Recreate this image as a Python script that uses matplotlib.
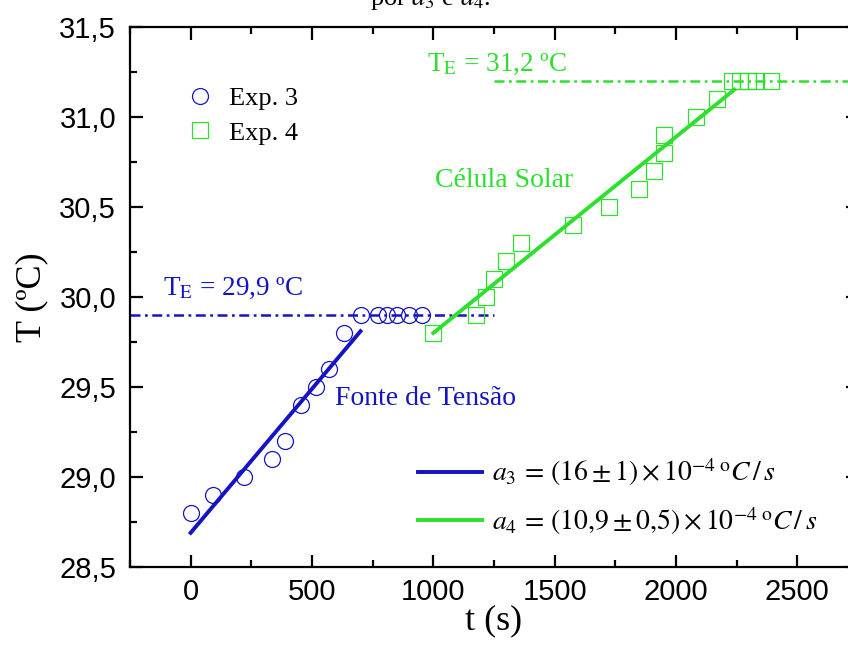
import matplotlib
matplotlib.use("Agg")
import matplotlib.pyplot as plt
from matplotlib.lines import Line2D
from matplotlib.ticker import MultipleLocator, FuncFormatter

plt.rcParams["mathtext.fontset"] = "stix"

# ── data ──────────────────────────────────────────────────────────────────────
t_exp3 = [0, 90, 220, 335, 390, 455, 515, 572, 632,
          700, 770, 808, 852, 898, 955]
T_exp3 = [28.8, 28.9, 29.0, 29.1, 29.2, 29.4, 29.5, 29.6, 29.8,
          29.9, 29.9, 29.9, 29.9, 29.9, 29.9]

t_exp4 = [1000, 1175, 1218, 1252, 1300, 1362, 1575, 1722, 1846, 1911,
          1952, 1952, 2083, 2169, 2232, 2262, 2298, 2330, 2392]
T_exp4 = [29.8, 29.9, 30.0, 30.1, 30.2, 30.3, 30.4, 30.5, 30.6, 30.7,
          30.8, 30.9, 31.0, 31.1, 31.2, 31.2, 31.2, 31.2, 31.2]

# linear fits: T = T0 + a * (t - t0)
fit3_t = [0, 700]
fit3_T0, fit3_a = 28.69, 16e-4
fit4_t = [1000, 2240]
fit4_T0, fit4_a = 29.80, 10.9e-4

TE3, TE3_span = 29.9, [-250, 1250]
TE4, TE4_span = 31.2, [1250, 2750]

# ── colours ───────────────────────────────────────────────────────────────────
BLUE = "#1414c4"
GREEN = "#2ee02e"
SERIF = "Liberation Serif"
SANS = "Liberation Sans"

fig = plt.figure(figsize=(8.48, 6.45), dpi=100)
ax = fig.add_axes([130 / 848, 1 - 567 / 645, 728 / 848, 540 / 645])

ax.plot(t_exp3, T_exp3, "o", ms=11.5, mfc="none", mec=BLUE, mew=0.9, zorder=3)
ax.plot(t_exp4, T_exp4, "s", ms=11, mfc="none", mec=GREEN, mew=0.9, zorder=3)

y3 = [fit3_T0 + fit3_a * (t - fit3_t[0]) for t in fit3_t]
y4 = [fit4_T0 + fit4_a * (t - fit4_t[0]) for t in fit4_t]
ax.plot(fit3_t, y3, color=BLUE, lw=2.8, zorder=4)
ax.plot(fit4_t, y4, color=GREEN, lw=2.8, zorder=4)

dashdot = (0, (4.0, 1.8, 1.1, 1.8))
ax.plot(TE3_span, [TE3, TE3], color=BLUE, lw=1.8, ls=dashdot, zorder=2)
ax.plot(TE4_span, [TE4, TE4], color=GREEN, lw=1.8, ls=dashdot, zorder=2)

# ── annotations ───────────────────────────────────────────────────────────────
ax.text(-115, 30.01, r"T$_{\rm E}$ = 29,9 ºC", color=BLUE, fontsize=19.5,
        family=SERIF, va="baseline")
ax.text(975, 31.255, r"T$_{\rm E}$ = 31,2 ºC", color=GREEN, fontsize=19.5,
        family=SERIF, va="baseline")
ax.text(593, 29.40, "Fonte de Tensão", color=BLUE, fontsize=20,
        family=SERIF, va="baseline")
ax.text(1005, 30.61, "Célula Solar", color=GREEN, fontsize=20,
        family=SERIF, va="baseline")

fig.text(0.508, 0.992, r"por $a_3$ e $a_4$.", fontsize=19, family=SERIF,
         ha="center", va="baseline")

# ── legends ───────────────────────────────────────────────────────────────────
marker_handles = [
    Line2D([], [], ls="none", marker="o", ms=11.5, mfc="none", mec=BLUE, mew=0.9),
    Line2D([], [], ls="none", marker="s", ms=11, mfc="none", mec=GREEN, mew=0.9),
]
leg1 = ax.legend(marker_handles, ["Exp. 3", "Exp. 4"], loc="upper left",
                 bbox_to_anchor=(0.06, 0.914), frameon=False, handlelength=1.0,
                 handletextpad=0.6, labelspacing=0.42, borderpad=0,
                 prop={"family": SERIF, "size": 19})
ax.add_artist(leg1)

fit_handles = [
    Line2D([], [], color=BLUE, lw=2.8),
    Line2D([], [], color=GREEN, lw=2.8),
]
fit_labels = [
    r"$a_3\, =\, \left(16 \pm 1\right)\times 10^{-4}\,{}^{\mathrm{o}}C\,/\,s$",
    r"$a_4\, =\, \left(10{,}9 \pm 0{,}5\right)\times 10^{-4}\,{}^{\mathrm{o}}C\,/\,s$",
]
ax.legend(fit_handles, fit_labels, loc="lower left",
          bbox_to_anchor=(0.377, 0.03), frameon=False, handlelength=2.3,
          handletextpad=0.35, labelspacing=0.6, borderpad=0,
          prop={"size": 20})

# ── axes ──────────────────────────────────────────────────────────────────────
ax.set_xlim(-250, 2750)
ax.set_ylim(28.5, 31.5)
ax.xaxis.set_major_locator(MultipleLocator(500))
ax.xaxis.set_minor_locator(MultipleLocator(250))
ax.yaxis.set_major_locator(MultipleLocator(0.5))
ax.yaxis.set_minor_locator(MultipleLocator(0.25))
ax.yaxis.set_major_formatter(FuncFormatter(lambda v, _: f"{v:.1f}".replace(".", ",")))
ax.xaxis.set_major_formatter(FuncFormatter(lambda v, _: f"{v:.0f}"))

ax.tick_params(which="both", direction="in", top=True, right=True, width=1.6)
ax.tick_params(which="major", length=9, labelsize=21, pad=8)
ax.tick_params(axis="y", which="major", pad=10)
ax.tick_params(which="minor", length=5)
for lab in ax.get_xticklabels() + ax.get_yticklabels():
    lab.set_family(SANS)
for sp in ax.spines.values():
    sp.set_linewidth(1.6)

ax.set_xlabel("t (s)", family=SERIF, fontsize=26, labelpad=-1)
ax.set_ylabel("T (ºC)", family=SERIF, fontsize=26, labelpad=8)

fig.savefig("out.png", dpi=100, facecolor="white")
